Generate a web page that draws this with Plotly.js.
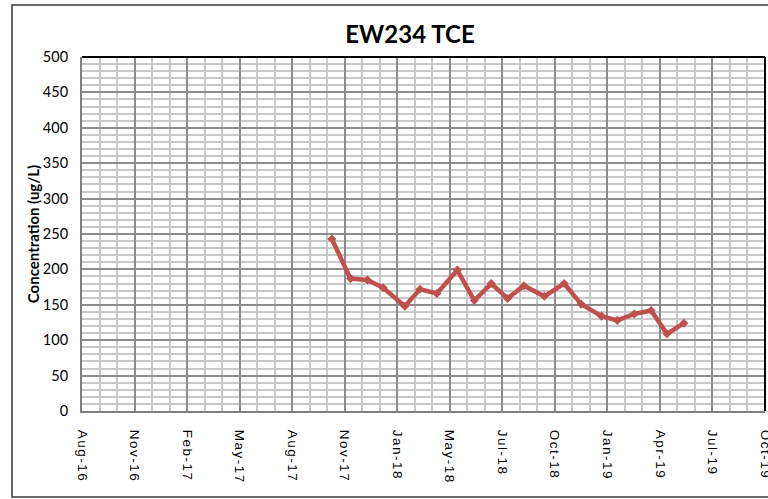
<!DOCTYPE html>
<html>
<head>
<meta charset="utf-8">
<script src="https://cdn.plot.ly/plotly-3.0.1.min.js"></script>
<style>
html,body{margin:0;padding:0;background:#fff;}
#chart{width:768px;height:499px;}
#chart .xtick text{letter-spacing:1.5px;}
</style>
</head>
<body>
<div id="chart"></div>
<script>
// ---- data ----
const sampleDates = [
  '2017-10-11','2017-11-12','2017-12-11','2018-01-07','2018-02-13','2018-03-11',
  '2018-04-09','2018-05-14','2018-06-12','2018-07-11','2018-08-08','2018-09-05',
  '2018-10-10','2018-11-13','2018-12-12','2019-01-16','2019-02-12','2019-03-13',
  '2019-04-11','2019-05-08','2019-06-06'
];
const tceValues = [
  243, 187, 185, 174, 148, 172,
  166, 199, 156, 180, 159, 177,
  162, 180, 151, 134, 128, 137,
  142, 109, 124
];
const tickDates = [
  '2016-08-09','2016-11-07','2017-02-05','2017-05-06','2017-08-04','2017-11-02',
  '2018-01-31','2018-05-01','2018-07-30','2018-10-28','2019-01-26','2019-04-26',
  '2019-07-25','2019-10-23'
];
const tickLabels = [
  'Aug-16','Nov-16','Feb-17','May-17','Aug-17','Nov-17',
  'Jan-18','May-18','Jul-18','Oct-18','Jan-19','Apr-19',
  'Jul-19','Oct-19'
];
const yTickValues = [0,50,100,150,200,250,300,350,400,450,500];

const DAY = 86400000;

const trace = {
  x: sampleDates,
  y: tceValues,
  type: 'scatter',
  mode: 'lines+markers',
  line: {color: '#C0504D', width: 4.5},
  marker: {symbol: 'diamond', size: 7, color: '#C0504D'},
  hoverinfo: 'x+y',
  showlegend: false
};

const layout = {
  width: 768,
  height: 499,
  margin: {l: 82, r: 3, t: 57, b: 88},
  paper_bgcolor: '#ffffff',
  plot_bgcolor: '#ffffff',
  title: {
    text: '<b>EW234 TCE</b>',
    font: {family: 'Lato, "Open Sans", sans-serif', size: 24, color: '#000'},
    x: 410/768, xref: 'container', xanchor: 'center',
    y: 1 - 35/499, yref: 'container', yanchor: 'middle'
  },
  xaxis: {
    type: 'date',
    range: [tickDates[0], tickDates[tickDates.length - 1]],
    tickmode: 'array',
    tickvals: tickDates,
    ticktext: tickLabels,
    tickangle: 90,
    tickfont: {family: '"Liberation Sans", Arial, sans-serif', size: 13.5, color: '#000'},
    ticks: '',
    ticklabelstandoff: 14,
    ticklabeloverflow: 'allow',
    showgrid: true,
    gridcolor: '#8c8c8c',
    gridwidth: 2,
    minor: {
      tick0: tickDates[0],
      dtick: 30 * DAY,
      showgrid: true,
      gridcolor: '#c8c8c8',
      gridwidth: 2
    },
    showline: true,
    linecolor: '#7f7f7f',
    linewidth: 2,
    zeroline: false,
    fixedrange: true
  },
  yaxis: {
    range: [0, 500],
    tickmode: 'array',
    tickvals: yTickValues,
    ticktext: yTickValues.map(String),
    tickfont: {family: 'Lato, "Open Sans", sans-serif', size: 14.5, color: '#000'},
    ticks: '',
    ticklabelstandoff: 9,
    showgrid: true,
    gridcolor: '#8c8c8c',
    gridwidth: 2,
    minor: {
      dtick: 10,
      showgrid: true,
      gridcolor: '#c8c8c8',
      gridwidth: 2
    },
    showline: true,
    linecolor: '#7f7f7f',
    linewidth: 2,
    zeroline: false,
    title: {
      text: '<b>Concentration (ug/L)</b>',
      font: {family: 'Lato, "Open Sans", sans-serif', size: 15, color: '#000'},
      standoff: 0
    },
    fixedrange: true
  },
  shapes: [
    // plot-area top and right borders (dark)
    {type: 'line', xref: 'paper', yref: 'paper', x0: 0, x1: 1, y0: 1, y1: 1,
     line: {color: '#000', width: 2}},
    {type: 'line', xref: 'paper', yref: 'paper', x0: 1, x1: 1, y0: 0, y1: 1,
     line: {color: '#000', width: 2}},
    // outer chart border
    {type: 'rect', xref: 'paper', yref: 'paper',
     x0: (12 - 82) / 683, x1: (790 - 82) / 683,
     y0: -(497 - 411) / 354, y1: (411 - 5) / 354,
     line: {color: '#3a3a3a', width: 1.5}, fillcolor: 'rgba(0,0,0,0)', layer: 'below'}
  ]
};

Plotly.newPlot('chart', [trace], layout, {displayModeBar: false, staticPlot: true});
</script>
</body>
</html>
